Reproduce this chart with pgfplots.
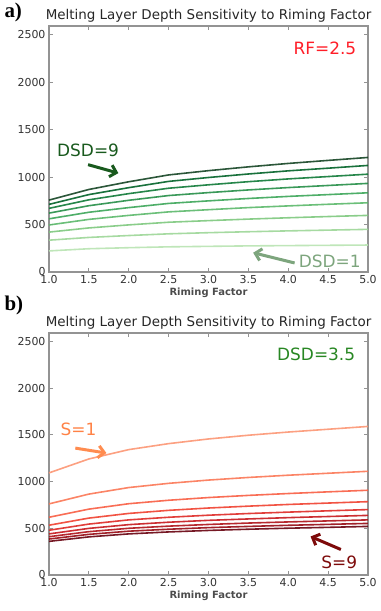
\documentclass[border=0pt]{standalone}
\usepackage{pgfplots}
\pgfplotsset{compat=1.18}
\usepackage{fontspec}
\setmainfont{DejaVu Sans}
\newfontfamily\serifbold{Liberation Serif}[BoldFont={Liberation Serif Bold}]
\usetikzlibrary{arrows.meta}

\definecolor{g1}{RGB}{184,227,177}
\definecolor{g2}{RGB}{156,214,151}
\definecolor{g3}{RGB}{125,200,125}
\definecolor{g4}{RGB}{91,184,106}
\definecolor{g5}{RGB}{59,165,88}
\definecolor{g6}{RGB}{37,142,71}
\definecolor{g7}{RGB}{14,121,54}
\definecolor{g8}{RGB}{0,98,39}
\definecolor{g9}{RGB}{20,68,35}
\definecolor{r1}{RGB}{252,150,115}
\definecolor{r2}{RGB}{251,119,85}
\definecolor{r3}{RGB}{248,93,67}
\definecolor{r4}{RGB}{240,64,47}
\definecolor{r5}{RGB}{222,41,37}
\definecolor{r6}{RGB}{198,23,28}
\definecolor{r7}{RGB}{174,17,23}
\definecolor{r8}{RGB}{150,9,18}
\definecolor{r9}{RGB}{103,0,13}

\pgfplotsset{mlstyle/.style={
  scale only axis, width=319bp,
  xmin=1, xmax=5, ymin=0, ymax=2590,
  xtick={1,1.5,2,2.5,3,3.5,4,4.5,5},
  ytick={0,500,1000,1500,2000,2500},
  scaled y ticks=false,
  xticklabel style={/pgf/number format/.cd, fixed, fixed zerofill, precision=1},
  yticklabel style={/pgf/number format/.cd, fixed, 1000 sep={}},
  /pgf/number format/assume math mode=true,
  tick align=inside, major tick length=4bp,
  axis line style={draw=gray!85, line width=1.2bp},
  tick style={gray!85, line width=0.8bp},
  ticklabel style={font=\fontsize{11}{13}\selectfont, color=black!80},
  title style={font=\fontsize{13.5}{15}\selectfont, color=black!85, yshift=-6bp},
  xlabel style={font=\bfseries\fontsize{10}{12}\selectfont, color=black!70, yshift=3bp},
  xlabel={Riming Factor},
  title={Melting Layer Depth Sensitivity to Riming Factor},
  every axis plot/.append style={line width=1.6bp, no marks, opacity=0.9},
  clip=false,
}}
\tikzset{annarrow/.style={-{Straight Barb[length=6bp,width=12bp]}, line width=3bp}}

\begin{document}
\begin{tikzpicture}
\useasboundingbox (0,0) rectangle (381bp,-611bp);

\begin{axis}[mlstyle, height=246bp, at={(49bp,-272bp)}, anchor=south west]
\addplot[g1] coordinates {(1,222)(1.5,245)(2,256)(2.5,265)(3,270)(3.5,275)(4,278)(4.5,281)(5,284)};
\addplot[g2] coordinates {(1,335)(1.5,364)(2,384)(2.5,402)(3,414)(3.5,424)(4,433)(4.5,441)(5,449)};
\addplot[g3] coordinates {(1,420)(1.5,464)(2,496)(2.5,524)(3,541)(3.5,557)(4,571)(4.5,584)(5,596)};
\addplot[g4] coordinates {(1,495)(1.5,554)(2,596)(2.5,633)(3,656)(3.5,678)(4,696)(4.5,713)(5,729)};
\addplot[g5] coordinates {(1,560)(1.5,629)(2,678)(2.5,722)(3,749)(3.5,774)(4,796)(4.5,815)(5,834)};
\addplot[g6] coordinates {(1,620)(1.5,698)(2,755)(2.5,805)(3,836)(3.5,864)(4,889)(4.5,911)(5,933)};
\addplot[g7] coordinates {(1,670)(1.5,760)(2,825)(2.5,882)(3,918)(3.5,951)(4,980)(4.5,1005)(5,1030)};
\addplot[g8] coordinates {(1,712)(1.5,815)(2,888)(2.5,954)(3,995)(3.5,1032)(4,1065)(4.5,1093)(5,1122)};
\addplot[g9] coordinates {(1,757)(1.5,869)(2,950)(2.5,1022)(3,1067)(3.5,1107)(4,1143)(4.5,1175)(5,1206)};
\node[font=\fontsize{17}{20}\selectfont, color={rgb,255:red,255;green,30;blue,40}] at (axis cs:4.46,2355) {RF=2.5};
\node[font=\fontsize{17}{20}\selectfont, color={rgb,255:red,25;green,90;blue,30}] at (axis cs:1.49,1283) {DSD=9};
\draw[annarrow, color={rgb,255:red,25;green,90;blue,30}] (axis cs:1.49,1130) -- (axis cs:1.87,1041);
\node[font=\fontsize{17}{20}\selectfont, color={rgb,255:red,125;green,165;blue,125}] at (axis cs:4.52,116) {DSD=1};
\draw[annarrow, color={rgb,255:red,125;green,165;blue,125}] (axis cs:4.08,95) -- (axis cs:3.56,203);
\end{axis}

\begin{axis}[mlstyle, height=242bp, at={(49bp,-575bp)}, anchor=south west]
\addplot[r9] coordinates {(1,360)(1.5,408)(2,440)(2.5,461)(3,477)(3.5,490)(4,501)(4.5,510)(5,520)};
\addplot[r8] coordinates {(1,385)(1.5,435)(2,469)(2.5,490)(3,507)(3.5,520)(4,532)(4.5,542)(5,552)};
\addplot[r7] coordinates {(1,410)(1.5,464)(2,500)(2.5,523)(3,541)(3.5,556)(4,568)(4.5,579)(5,590)};
\addplot[r6] coordinates {(1,440)(1.5,499)(2,539)(2.5,565)(3,585)(3.5,600)(4,614)(4.5,626)(5,638)};
\addplot[r5] coordinates {(1,479)(1.5,545)(2,590)(2.5,618)(3,640)(3.5,658)(4,673)(4.5,687)(5,700)};
\addplot[r4] coordinates {(1,533)(1.5,609)(2,659)(2.5,692)(3,717)(3.5,737)(4,755)(4.5,770)(5,785)};
\addplot[r3] coordinates {(1,618)(1.5,705)(2,763)(2.5,800)(3,829)(3.5,852)(4,872)(4.5,890)(5,907)};
\addplot[r2] coordinates {(1,761)(1.5,866)(2,936)(2.5,981)(3,1016)(3.5,1044)(4,1068)(4.5,1089)(5,1110)};
\addplot[r1] coordinates {(1,1093)(1.5,1242)(2,1342)(2.5,1406)(3,1456)(3.5,1496)(4,1530)(4.5,1560)(5,1590)};
\node[font=\fontsize{17}{20}\selectfont, color={rgb,255:red,40;green,135;blue,35}] at (axis cs:4.35,2358) {DSD=3.5};
\node[font=\fontsize{17}{20}\selectfont, color={rgb,255:red,255;green,130;blue,70}] at (axis cs:1.37,1556) {S=1};
\draw[annarrow, color={rgb,255:red,255;green,140;blue,80}] (axis cs:1.33,1358) -- (axis cs:1.72,1305);
\node[font=\fontsize{17}{20}\selectfont, color={rgb,255:red,125;green,10;blue,10}] at (axis cs:4.64,134) {S=9};
\draw[annarrow, color={rgb,255:red,125;green,10;blue,10}] (axis cs:4.66,273) -- (axis cs:4.28,412);
\end{axis}

\node[font=\serifbold\bfseries\fontsize{21}{24}\selectfont, anchor=west] at (1bp,-12bp) {a)};
\node[font=\serifbold\bfseries\fontsize{21}{24}\selectfont, anchor=west] at (1bp,-305bp) {b)};
\end{tikzpicture}
\end{document}
